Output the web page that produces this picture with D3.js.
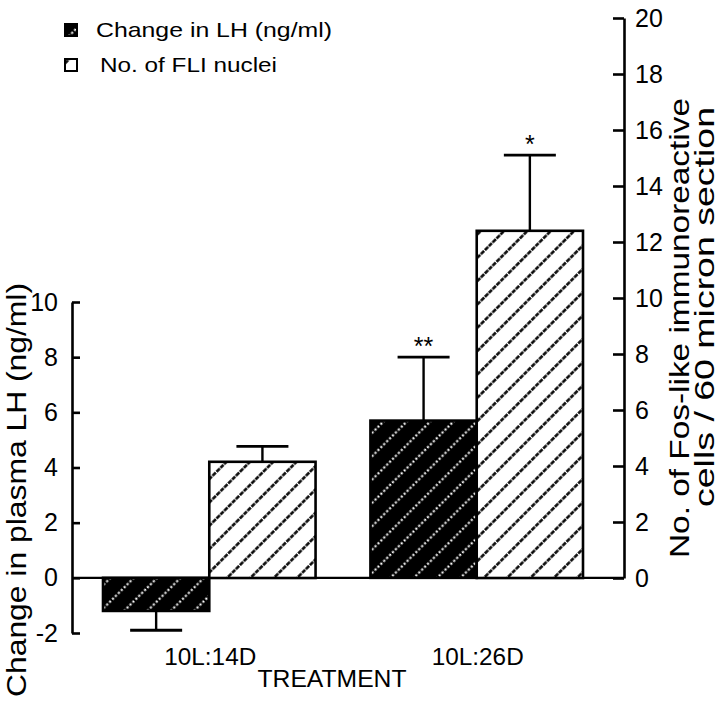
<!DOCTYPE html>
<html>
<head>
<meta charset="utf-8">
<script src="https://cdn.jsdelivr.net/npm/d3@7"></script>
<style>
  html, body { margin: 0; padding: 0; background: #fff; }
  svg { display: block; font-family: "Liberation Sans", Arial, Helvetica, sans-serif; }
</style>
</head>
<body>
<script>
// ---------- data ----------
const categories = ["10L:14D", "10L:26D"];
const lhMeans = [-1.2, 5.7];        // Change in LH (ng/ml), left axis
const lhSEM = [0.7, 2.3];
const fliMeans = [4.15, 12.4];      // No. of FLI nuclei, right axis
const fliSEM = [0.55, 2.7];
const lhMarks = ["", "**"];
const fliMarks = ["", "*"];
const leftTicks = [-2, 0, 2, 4, 6, 8, 10];
const rightTicks = [0, 2, 4, 6, 8, 10, 12, 14, 16, 18, 20];
const legendLabels = ["Change in LH  (ng/ml)", "No. of FLI nuclei"];
const leftTitle = "Change in plasma LH (ng/ml)";
const rightTitle = ["No. of Fos-like immunoreactive", "cells / 60 micron section"];
const xTitle = "TREATMENT";

// ---------- layout ----------
const W = 720, H = 702;
const xLeftAxis = 72, xRightAxis = 624;
const svg = d3.select("body").append("svg").attr("width", W).attr("height", H);
svg.append("rect").attr("width", W).attr("height", H).attr("fill", "#fff");

const yL = d3.scaleLinear().domain([-2, 10]).range([633, 302]);
const yR = d3.scaleLinear().domain([0, 20]).range([578, 18]);
const x = d3.scaleBand().domain(categories).range([103, 583]).paddingInner(0.2052).paddingOuter(0);
const xs = d3.scaleBand().domain(["lh", "fli"]).range([0, x.bandwidth()]);

// ---------- patterns ----------
const defs = svg.append("defs");
const sp = 16.5;
const pW = defs.append("pattern").attr("id", "hatchW").attr("patternUnits", "userSpaceOnUse")
  .attr("width", sp).attr("height", sp).attr("patternTransform", "rotate(45)");
pW.append("rect").attr("width", sp).attr("height", sp).attr("fill", "#fff");
pW.append("line").attr("x1", sp / 2).attr("x2", sp / 2).attr("y1", 0).attr("y2", sp)
  .attr("stroke", "#000").attr("stroke-width", 2.5).attr("stroke-dasharray", "4.5 1");
const pB = defs.append("pattern").attr("id", "hatchB").attr("patternUnits", "userSpaceOnUse")
  .attr("width", sp).attr("height", sp).attr("patternTransform", "rotate(45)");
pB.append("rect").attr("width", sp).attr("height", sp).attr("fill", "#000");
pB.append("line").attr("x1", sp / 2).attr("x2", sp / 2).attr("y1", 0).attr("y2", sp)
  .attr("stroke", "#fff").attr("stroke-width", 2).attr("stroke-dasharray", "2.2 1.9");

// ---------- zero line ----------
svg.append("line").attr("x1", xLeftAxis).attr("x2", xRightAxis)
  .attr("y1", yL(0)).attr("y2", yL(0)).attr("stroke", "#000").attr("stroke-width", 2.2);

// ---------- bars ----------
const capHalf = 26;
function drawSeries(key, means, sems, marks, scale, fill) {
  const g = svg.append("g");
  categories.forEach((c, i) => {
    const v = means[i], e = sems[i];
    const x0 = x(c) + xs(key), bw = xs.bandwidth();
    const cx = x0 + bw / 2;
    const yTop = scale(Math.max(0, v)), yBot = scale(Math.min(0, v));
    const yErr = v >= 0 ? scale(v + e) : scale(v - e);
    const yBar = scale(v);
    g.append("line").attr("x1", cx).attr("x2", cx).attr("y1", yBar).attr("y2", yErr)
      .attr("stroke", "#000").attr("stroke-width", 2.4);
    g.append("line").attr("x1", cx - capHalf).attr("x2", cx + capHalf).attr("y1", yErr).attr("y2", yErr)
      .attr("stroke", "#000").attr("stroke-width", 2.8);
    g.append("rect").attr("x", x0).attr("y", yTop).attr("width", bw).attr("height", yBot - yTop)
      .attr("fill", fill).attr("stroke", "#000").attr("stroke-width", 2.6);
    if (marks[i]) {
      g.append("text").attr("x", cx).attr("y", yErr - 2).attr("text-anchor", "middle")
        .attr("font-size", 25).attr("fill", "#000").text(marks[i]);
    }
  });
}
drawSeries("lh", lhMeans, lhSEM, lhMarks, yL, "url(#hatchB)");
drawSeries("fli", fliMeans, fliSEM, fliMarks, yR, "url(#hatchW)");

// ---------- axes ----------
const axL = svg.append("g").attr("transform", `translate(${xLeftAxis},0)`)
  .call(d3.axisLeft(yL).tickValues(leftTicks).tickFormat(d3.format("d"))
    .tickSizeInner(-8).tickSizeOuter(0).tickPadding(14));
const axR = svg.append("g").attr("transform", `translate(${xRightAxis},0)`)
  .call(d3.axisRight(yR).tickValues(rightTicks).tickFormat(d3.format("d"))
    .tickSizeInner(-11).tickSizeOuter(0).tickPadding(11));
[axL, axR].forEach(a => {
  a.select(".domain").attr("stroke", "#000").attr("stroke-width", 2.6);
  a.selectAll(".tick line").attr("stroke", "#000").attr("stroke-width", 2.6);
  a.selectAll(".tick text").attr("font-size", 25).attr("fill", "#000")
    .attr("font-family", "'Liberation Sans', Arial, sans-serif");
});
axL.selectAll(".tick text").text(d => d < 0 ? "-" + Math.abs(d) : d);

// ---------- category labels ----------
svg.append("g").selectAll("text").data(categories).join("text")
  .attr("x", d => x(d) + x.bandwidth() / 2 + 1).attr("y", 665)
  .attr("text-anchor", "middle").attr("font-size", 23)
  .attr("textLength", 92).attr("lengthAdjust", "spacingAndGlyphs").text(d => d);
svg.append("text").attr("x", 332).attr("y", 687).attr("text-anchor", "middle")
  .attr("font-size", 23).attr("textLength", 149).attr("lengthAdjust", "spacingAndGlyphs").text(xTitle);

// ---------- axis titles ----------
svg.append("text").attr("transform", "translate(26,490) rotate(-90)")
  .attr("text-anchor", "middle").attr("font-size", 28)
  .attr("textLength", 414).attr("lengthAdjust", "spacingAndGlyphs").text(leftTitle);
svg.append("text").attr("transform", "translate(689,328) rotate(-90)")
  .attr("text-anchor", "middle").attr("font-size", 28)
  .attr("textLength", 460).attr("lengthAdjust", "spacingAndGlyphs").text(rightTitle[0]);
svg.append("text").attr("transform", "translate(714,307) rotate(-90)")
  .attr("text-anchor", "middle").attr("font-size", 28)
  .attr("textLength", 400).attr("lengthAdjust", "spacingAndGlyphs").text(rightTitle[1]);

// ---------- legend ----------
const legendFills = ["url(#hatchB)", "url(#hatchW)"];
const legendY = [24, 59];
const legendTextX = [96, 100];
const legendLen = [236, 177];
const lg = svg.append("g");
legendLabels.forEach((t, i) => {
  lg.append("rect").attr("x", 65).attr("y", legendY[i]).attr("width", 12).attr("height", 12)
    .attr("fill", legendFills[i]).attr("stroke", "#000").attr("stroke-width", 2);
  lg.append("text").attr("x", legendTextX[i]).attr("y", legendY[i] + 13)
    .attr("font-size", 21).attr("textLength", legendLen[i]).attr("lengthAdjust", "spacingAndGlyphs").text(t);
});
</script>
</body>
</html>
